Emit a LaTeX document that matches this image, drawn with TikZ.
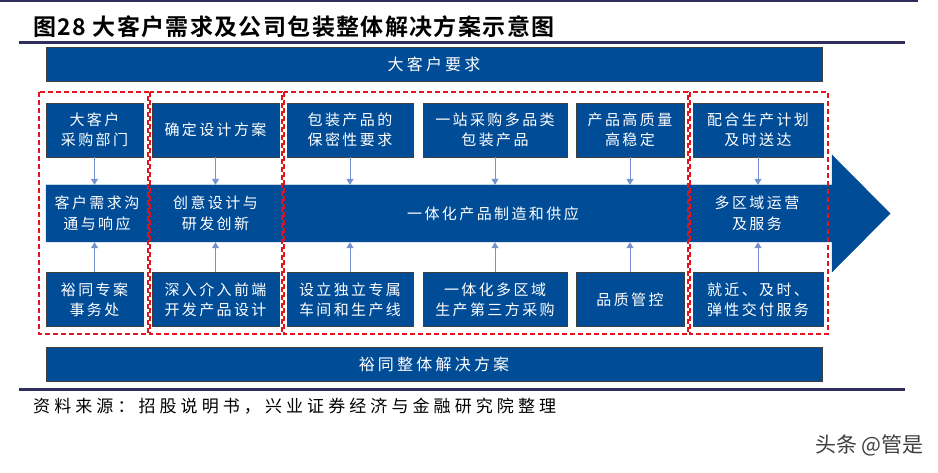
\documentclass[tikz,border=0pt]{standalone}
\usepackage{fontspec}
\usepackage{tikz}
\usetikzlibrary{arrows.meta}
\newfontfamily\cjk[LetterSpace=16]{Noto Sans CJK SC}
\newfontfamily\cjkbar[LetterSpace=20]{Noto Sans CJK SC}
\newfontfamily\cjksrc[LetterSpace=24]{Noto Sans CJK SC}
\newfontfamily\cjkhead[LetterSpace=6]{Noto Sans CJK SC Bold}
\newfontfamily\cjkmark{Noto Sans CJK SC}
\definecolor{boxblue}{RGB}{0,76,151}
\definecolor{linkblue}{RGB}{118,146,206}
\definecolor{rulenavy}{RGB}{46,45,92}
\definecolor{dashred}{RGB}{228,20,30}
\tikzset{
  bluebox/.style={draw=black!75, fill=boxblue, text=white, align=center, inner sep=0pt,
    font=\cjk\fontsize{15}{20}\selectfont, minimum height=54pt},
  bandtext/.style={text=white, align=center, inner sep=0pt,
    font=\cjk\fontsize{15}{21}\selectfont, minimum height=57pt},
  bar/.style={draw=black!75, fill=boxblue, text=white, inner sep=0pt,
    font=\cjkbar\fontsize{16}{20}\selectfont, minimum width=776pt, minimum height=34pt},
  link/.style={draw=linkblue, line width=1pt, -{Triangle[length=6pt,width=7pt]}},
  groupbox/.style={draw=dashred, line width=1.6pt, dash pattern=on 5pt off 3pt},
  navyrule/.style={draw=rulenavy, line width=3pt}
}
\begin{document}
\begin{tikzpicture}[x=1pt,y=-1pt]
\useasboundingbox[fill=white] (0,0) rectangle (938,473);
% rules and title
\draw[navyrule, line width=2pt] (0,1.5) -- (918,1.5);
\node[anchor=west, inner sep=0pt, font=\cjkhead\fontsize{23}{26}\selectfont] (title) at (33,27) {图28 大客户需求及公司包装整体解决方案示意图};
\draw[navyrule] (19,43) -- (905,43);
\node[bar] (need) at (434,64) {大客户要求};
% main arrow band
\filldraw[fill=boxblue, draw=boxblue] (46,185) -- (832,185) -- (832,155) -- (890,213.5) -- (832,272) -- (832,242) -- (46,242) -- cycle;
\node[bandtext] (kh0) at (97,213.5) {客户需求沟\\通与响应};
\node[bandtext] (sj0) at (215.5,213.5) {创意设计与\\研发创新};
\node[bandtext] (zz0) at (493,213.5) {一体化产品制造和供应};
\node[bandtext] (fw0) at (757,213.5) {多区域运营\\及服务};
% upper boxes
\node[bluebox, minimum width=97pt] (kh1) at (94.5,130) {大客户\\采购部门};
\node[bluebox, minimum width=127pt] (sj1) at (215.5,130) {确定设计方案};
\node[bluebox, minimum width=126pt] (zz1) at (350,130) {包装产品的\\保密性要求};
\node[bluebox, minimum width=144pt] (zz2) at (495,130) {一站采购多品类\\包装产品};
\node[bluebox, minimum width=108pt] (zz3) at (630,130) {产品高质量\\高稳定};
\node[bluebox, minimum width=130pt] (fw1) at (758,130) {配合生产计划\\及时送达};
% lower boxes
\node[bluebox, minimum width=97pt] (kh2) at (94.5,299.5) {裕同专案\\事务处};
\node[bluebox, minimum width=127pt] (sj2) at (215.5,299.5) {深入介入前端\\开发产品设计};
\node[bluebox, minimum width=126pt] (zz4) at (350,299.5) {设立独立专属\\车间和生产线};
\node[bluebox, minimum width=144pt] (zz5) at (495,299.5) {一体化多区域\\生产第三方采购};
\node[bluebox, minimum width=108pt] (zz6) at (630,299.5) {品质管控};
\node[bluebox, minimum width=130pt] (fw2) at (758,299.5) {就近、及时、\\弹性交付服务};
% links
\foreach \a/\b in {kh1/kh0, sj1/sj0, zz1/zz0, zz2/zz0, zz3/zz0, fw1/fw0}
  \draw[link] (\a.south) -- (\a.south |- \b.north);
\foreach \a/\b in {kh2/kh0, sj2/sj0, zz4/zz0, zz5/zz0, zz6/zz0, fw2/fw0}
  \draw[link] (\a.north) -- (\a.north |- \b.south);
% dashed groups
\draw[groupbox] (39,92) rectangle (148,334);
\draw[groupbox] (150,92) rectangle (282,334);
\draw[groupbox] (284,92) rectangle (688,334);
\draw[groupbox] (690,92) rectangle (828,334);
% bottom
\node[bar] (plan) at (434,364) {裕同整体解决方案};
\draw[navyrule] (19,389) -- (905,389);
\node[anchor=west, inner sep=0pt, font=\cjksrc\fontsize{17}{20}\selectfont] (src) at (33,406) {资料来源：招股说明书，兴业证券经济与金融研究院整理};
\node[anchor=east, inner sep=0pt, text=black!75, font=\cjkmark\fontsize{21}{24}\selectfont] (mark) at (924,445) {头条 @管是};
\end{tikzpicture}
\end{document}
